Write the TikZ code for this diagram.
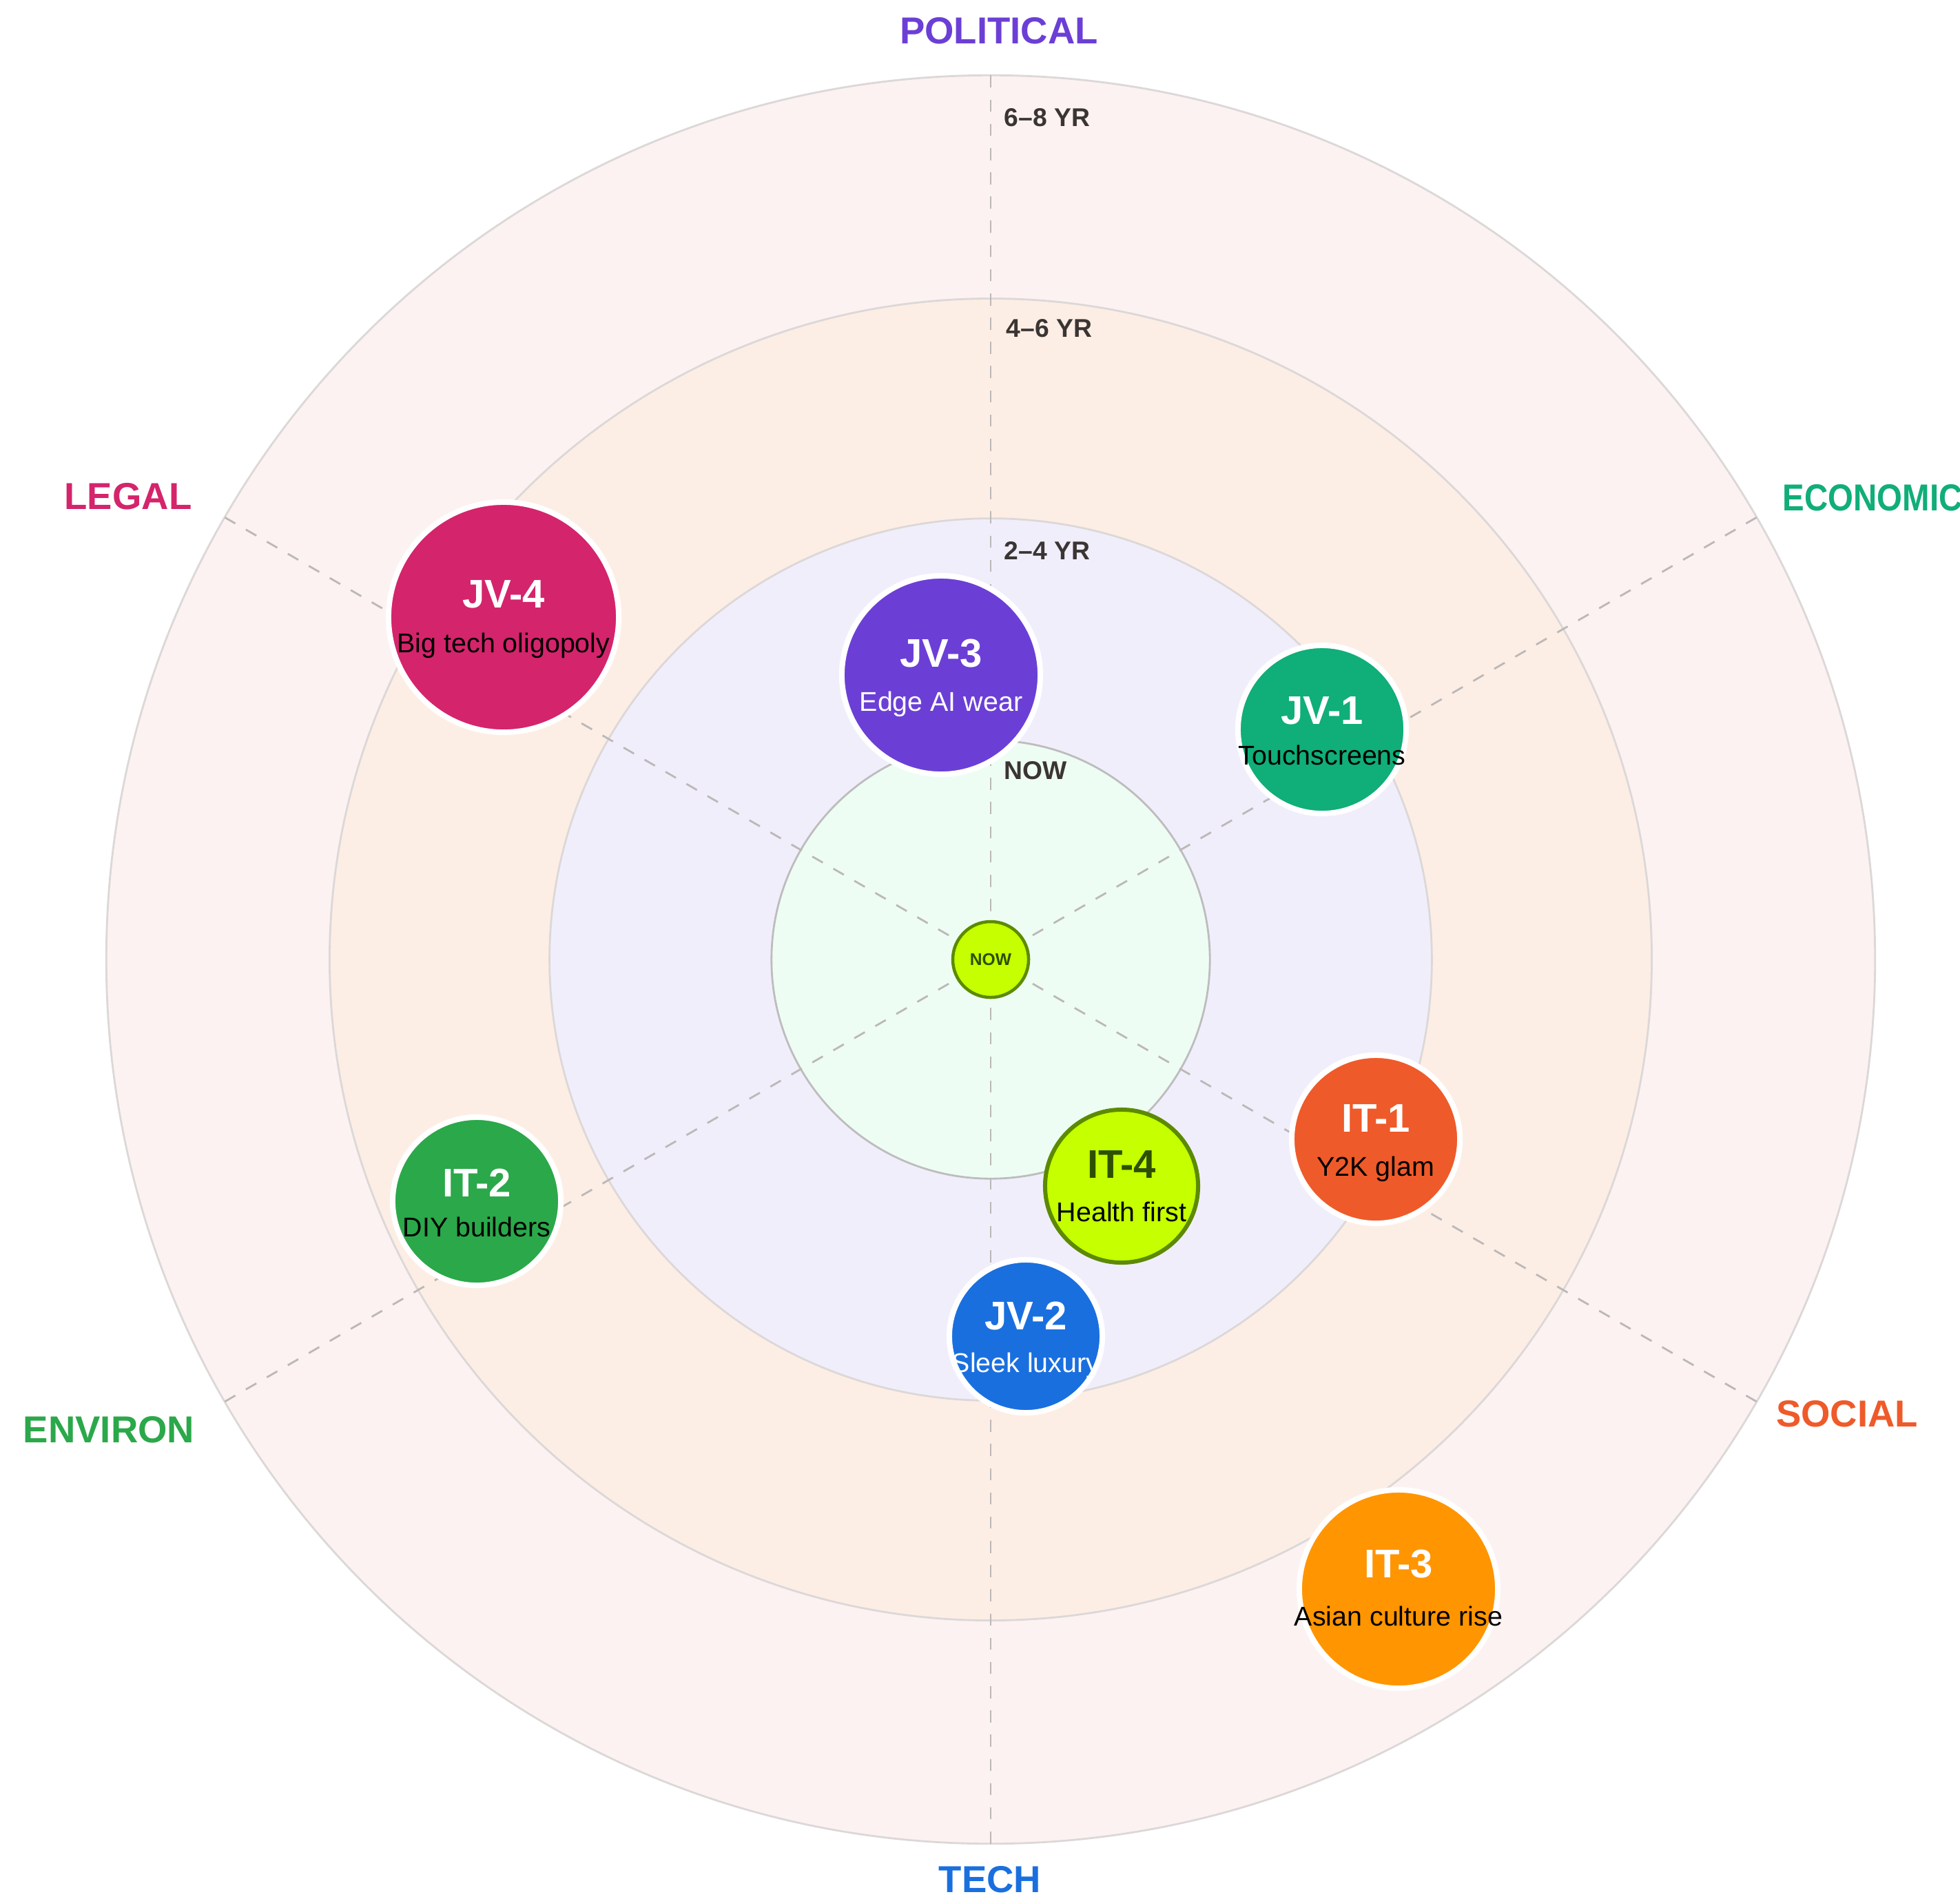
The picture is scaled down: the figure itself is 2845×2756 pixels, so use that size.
\documentclass[tikz,border=0pt]{standalone}
\usepackage{fontspec}
\setmainfont{Liberation Sans}
\usetikzlibrary{calc}
\definecolor{ringD}{HTML}{FCF2F1}
\definecolor{ringC}{HTML}{FDEEE5}
\definecolor{ringB}{HTML}{F1EEFC}
\definecolor{ringA}{HTML}{EEFDF3}
\definecolor{ringline}{HTML}{DCD8D8}
\definecolor{ringlineA}{HTML}{BDBDBD}
\definecolor{spoke}{HTML}{BDB8B8}
\definecolor{ringtxt}{HTML}{3A3533}
\definecolor{cPol}{HTML}{6B3FD6}
\definecolor{cEco}{HTML}{10AE78}
\definecolor{cSoc}{HTML}{EF5A2A}
\definecolor{cTec}{HTML}{1A6FDF}
\definecolor{cEnv}{HTML}{2BA84A}
\definecolor{cLeg}{HTML}{D4246C}
\definecolor{cOra}{HTML}{FF9500}
\definecolor{cLime}{HTML}{C5FF00}
\definecolor{cLimeLine}{HTML}{5C8A00}
\definecolor{cLimeTxt}{HTML}{2D5000}
\begin{document}
\begin{tikzpicture}[x=0.01cm,y=-0.01cm,
  axislbl/.style={font=\bfseries\fontsize{15.5}{18}\selectfont, inner sep=0pt, anchor=base},
  ringlbl/.style={font=\bfseries\fontsize{10.6}{12}\selectfont, text=ringtxt, inner sep=0pt, anchor=base west},
  trend/.style={circle, draw=white, line width=0.08cm, inner sep=0pt, minimum size=#1},
  ttl/.style={font=\bfseries\fontsize{16.5}{19}\selectfont, text=white, inner sep=0pt, anchor=base},
  sub/.style={font=\fontsize{11.2}{13}\selectfont, text=black, inner sep=0pt, anchor=base},
  spokeline/.style={draw=spoke, line width=0.8pt, dash pattern=on 5pt off 5pt}
]
\path[use as bounding box, fill=white] (0,0) rectangle (2845,2756);
\coordinate (c) at (1438,1393);
% rings
\path[fill=ringD, draw=ringline, line width=0.8pt] (c) circle[radius=12.83cm];
\path[fill=ringC, draw=ringline, line width=0.8pt] (c) circle[radius=9.59cm];
\path[fill=ringB, draw=ringline, line width=0.8pt] (c) circle[radius=6.40cm];
\path[fill=ringA, draw=ringlineA, line width=0.8pt] (c) circle[radius=3.18cm];
% spokes
\foreach \a/\n in {90/sp1,30/sp2,-30/sp3,-90/sp4,210/sp5,150/sp6}{
  \coordinate (\n) at ($(c)+(\a:12.83cm)$);
  \draw[spokeline] (c) -- (\n);
}
% ring labels
\node[ringlbl] (r4) at (1457,183) {6–8 YR};
\node[ringlbl] (r3) at (1460,489) {4–6 YR};
\node[ringlbl] (r2) at (1457,812) {2–4 YR};
\node[ringlbl] (r1) at (1457,1131) {NOW};
% axis labels
\node[axislbl, text=cPol] (lPol) at (1450,63) {POLITICAL};
\node[axislbl, text=cEco, anchor=base west] (lEco) at (2587,741) {\scalebox{0.87}[1]{ECONOMIC}};
\node[axislbl, text=cSoc] (lSoc) at (2681,2071) {SOCIAL};
\node[axislbl, text=cTec] (lTec) at (1437,2747) {TECH};
\node[axislbl, text=cEnv] (lEnv) at (158,2094) {ENVIRON};
\node[axislbl, text=cLeg] (lLeg) at (186,739) {LEGAL};
% center
\node[circle, fill=cLime, draw=cLimeLine, line width=0.045cm, minimum size=1.10cm, inner sep=0pt,
  font=\bfseries\fontsize{7}{8}\selectfont, text=cLimeTxt] (now) at (c) {NOW};
% trend circles
\node[trend=2.88cm, fill=cPol] (jv3) at (1366,980) {};
\node[ttl] at ($(jv3)+(0,-12)$) {JV-3};
\node[sub, text=white] at ($(jv3)+(0,52)$) {Edge AI wear};

\node[trend=3.34cm, fill=cLeg] (jv4) at (731,896) {};
\node[ttl] at ($(jv4)+(0,-14)$) {JV-4};
\node[sub] at ($(jv4)+(0,51)$) {Big tech oligopoly};

\node[trend=2.44cm, fill=cEco] (jv1) at (1919,1059) {};
\node[ttl] at ($(jv1)+(0,-8)$) {JV-1};
\node[sub] at ($(jv1)+(0,51)$) {Touchscreens};

\node[trend=2.44cm, fill=cSoc] (it1) at (1997,1654) {};
\node[ttl] at ($(it1)+(0,-11)$) {IT-1};
\node[sub] at ($(it1)+(0,53)$) {Y2K glam};

\node[trend=2.44cm, fill=cEnv] (it2) at (692,1744) {};
\node[ttl] at ($(it2)+(0,-7)$) {IT-2};
\node[sub] at ($(it2)+(0,51)$) {DIY builders};

\node[circle, fill=cLime, draw=cLimeLine, line width=0.06cm, inner sep=0pt, minimum size=2.22cm] (it4) at (1628,1722) {};
\node[ttl, text=cLimeTxt] at ($(it4)+(0,-12)$) {IT-4};
\node[sub] at ($(it4)+(0,51)$) {Health first};

\node[trend=2.22cm, fill=cTec] (jv2) at (1489,1940) {};
\node[ttl] at ($(jv2)+(0,-10)$) {JV-2};
\node[sub, text=white] at ($(jv2)+(0,52)$) {Sleek luxury};

\node[trend=2.88cm, fill=cOra] (it3) at (2030,2307) {};
\node[ttl] at ($(it3)+(0,-17)$) {IT-3};
\node[sub] at ($(it3)+(0,53)$) {Asian culture rise};
\end{tikzpicture}
\end{document}
